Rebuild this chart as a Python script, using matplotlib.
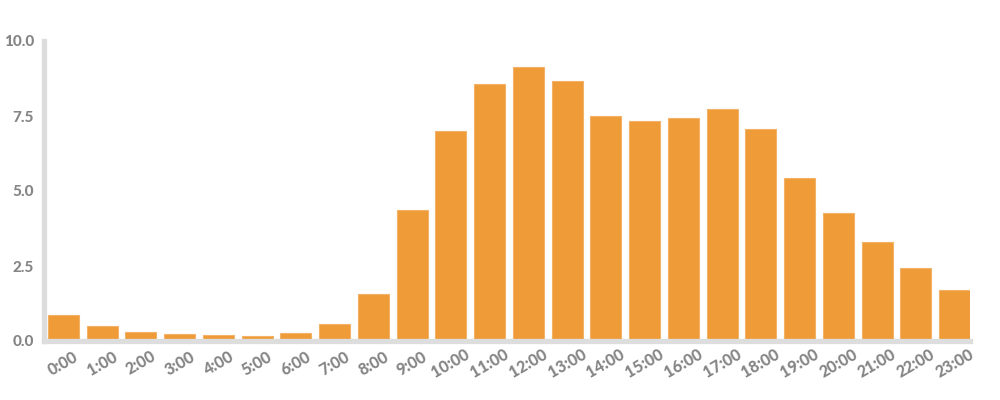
import matplotlib.pyplot as plt
import numpy as np

hours = ['%d:00' % h for h in range(24)]
values = [0.87, 0.5, 0.3, 0.23, 0.2, 0.17, 0.27, 0.57, 1.57, 4.37, 7.0, 8.57,
          9.13, 8.67, 7.5, 7.33, 7.43, 7.73, 7.07, 5.43, 4.27, 3.3, 2.43, 1.7]
yticks = [0.0, 2.5, 5.0, 7.5, 10.0]

plt.rcParams['font.family'] = ['Lato', 'DejaVu Sans']

fig = plt.figure(figsize=(10, 4), dpi=100)
ax = fig.add_axes([0.044, 0.1475, 0.926, 0.75])

x = np.arange(len(hours))
ax.bar(x, values, width=0.8, color='#ee9b38', edgecolor='#f3b267', linewidth=0.8, zorder=2)

ax.set_xlim(-0.5, 23.4)
ax.set_ylim(0, 10)
ax.set_yticks(yticks, labels=['%.1f' % t for t in yticks])
ax.set_xticks(x, labels=hours)

for s in ['top', 'right']:
    ax.spines[s].set_visible(False)
for s in ['left', 'bottom']:
    ax.spines[s].set_color('#dddddd')
    ax.spines[s].set_linewidth(3.8)

ax.tick_params(axis='both', length=0, colors='#858585')
ax.tick_params(axis='y', pad=7, labelsize=11)
ax.tick_params(axis='x', pad=16, labelsize=11.5)
for lbl in ax.get_yticklabels():
    lbl.set_fontweight('black')
for lbl in ax.get_xticklabels():
    lbl.set_fontweight('black')
    lbl.set_rotation(30)
    lbl.set_ha('center')
    lbl.set_va('center')
    lbl.set_rotation_mode('anchor')

fig.savefig('out.png', dpi=100)
